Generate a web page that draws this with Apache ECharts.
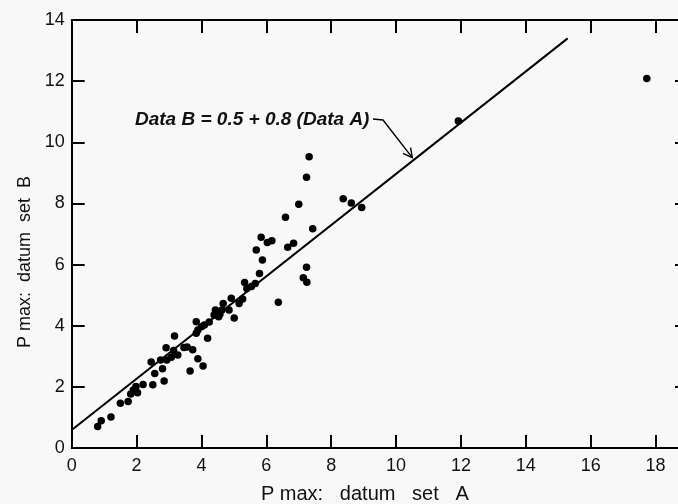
<!DOCTYPE html>
<html><head><meta charset="utf-8">
<script src="https://cdn.jsdelivr.net/npm/echarts@6/dist/echarts.min.js"></script>
<style>html,body{margin:0;padding:0;background:#f8f8f8}#c{width:678px;height:504px}</style>
</head><body><div id="c"></div>
<script>
// Data
const dataA = [0.80,0.91,1.21,1.50,1.74,1.82,1.90,1.98,2.03,2.20,2.50,2.56,2.80,2.85,2.45,2.74,2.91,2.93,3.07,3.14,3.27,3.17,3.46,3.56,3.73,3.65,3.89,4.05,3.84,3.89,3.84,4.00,4.19,4.24,4.39,4.43,4.53,4.63,4.67,4.85,4.92,5.01,5.16,5.27,5.33,5.40,5.54,5.66,5.79,5.69,5.88,5.84,6.03,6.17,6.37,6.66,6.84,6.59,7.00,7.24,7.32,7.43,7.24,7.14,7.25,8.37,8.62,8.94,11.92,17.73,4.09,4.57];
const dataB = [0.70,0.89,1.01,1.46,1.52,1.77,1.90,2.01,1.81,2.08,2.07,2.44,2.59,2.19,2.81,2.88,3.28,2.88,2.97,3.19,3.04,3.66,3.29,3.30,3.21,2.52,2.92,2.68,3.75,3.86,4.13,3.97,3.59,4.12,4.35,4.51,4.29,4.51,4.73,4.51,4.90,4.25,4.73,4.87,5.41,5.22,5.28,5.38,5.71,6.48,6.15,6.89,6.72,6.78,4.77,6.57,6.70,7.55,7.97,8.86,9.53,7.17,5.91,5.57,5.42,8.15,8.01,7.87,10.70,12.09,4.02,4.38];
const fitA = [0, 15.29];
const fitB = [0.59, 13.40];
const xTitle = 'P max:   datum   set   A';
const yTitle = 'P max:  datum  set  B';
const noteText = 'Data B = 0.5 + 0.8 (Data A)';
const notePoint = [10.5, 9.5];

const FONT = 'Liberation Sans, Arial, Helvetica, sans-serif';
const chart = echarts.init(document.getElementById('c'));
const pts = dataA.map((a, i) => [a, dataB[i]]);
const fitPts = fitA.map((a, i) => [a, fitB[i]]);

const line = {show: true, onZero: false, lineStyle: {color: '#000', width: 2}};
const tick = {show: true, inside: true, length: 13, lineStyle: {color: '#000', width: 2}};
const lbl = {fontSize: 18, color: '#111', fontFamily: FONT};

chart.setOption({
  backgroundColor: '#f8f8f8',
  animation: false,
  grid: {left: 71.7, top: 20, right: -10, bottom: 56, outerBoundsMode: 'none', containLabel: false},
  xAxis: [
    {type: 'value', min: 0, max: 19, interval: 2, position: 'bottom',
     axisLine: line, axisTick: tick, splitLine: {show: false},
     axisLabel: Object.assign({margin: 9, formatter: v => (v % 2 === 0 ? String(v) : '')}, lbl),
     name: xTitle, nameLocation: 'middle', nameGap: 36,
     nameTextStyle: {fontSize: 20, color: '#111', fontFamily: FONT, padding: [0, 30, 0, 0]}},
    {type: 'value', min: 0, max: 19, interval: 2, position: 'top',
     axisLine: line, axisTick: tick, splitLine: {show: false}, axisLabel: {show: false}}
  ],
  yAxis: [
    {type: 'value', min: 0, max: 14, interval: 2, position: 'left',
     axisLine: line, axisTick: tick, splitLine: {show: false},
     axisLabel: Object.assign({margin: 7}, lbl),
     name: yTitle, nameLocation: 'middle', nameGap: 38,
     nameTextStyle: {fontSize: 18, color: '#111', fontFamily: FONT, padding: [0, 56, 0, 0]}},
    {type: 'value', min: 0, max: 14, interval: 2, position: 'right',
     axisLine: line, axisTick: tick, splitLine: {show: false}, axisLabel: {show: false}}
  ],
  series: [
    {type: 'scatter', data: pts, symbolSize: 7.5, itemStyle: {color: '#000', opacity: 1}, xAxisIndex: 0, yAxisIndex: 0},
    {type: 'line', data: fitPts, symbol: 'none', lineStyle: {color: '#000', width: 2}, xAxisIndex: 0, yAxisIndex: 0}
  ]
});

const tip = chart.convertToPixel({xAxisIndex: 0, yAxisIndex: 0}, notePoint);
const hookA = [373, 119], hookB = [383, 120];
const dx = tip[0] - hookB[0], dy = tip[1] - hookB[1];
const len = Math.hypot(dx, dy), ux = dx / len, uy = dy / len;
const ang = 28 * Math.PI / 180, hl = 10;
function rot(x, y, a) { return [x * Math.cos(a) - y * Math.sin(a), x * Math.sin(a) + y * Math.cos(a)]; }
const r1 = rot(-ux, -uy, ang), r2 = rot(-ux, -uy, -ang);
chart.setOption({
  graphic: [
    {type: 'text', left: 135, top: 110, style: {text: noteText, fontSize: 19, fontStyle: 'italic', fontWeight: 'bold', fontFamily: FONT, fill: '#111'}},
    {type: 'polyline', shape: {points: [hookA, hookB, tip]}, style: {stroke: '#000', lineWidth: 1.4, fill: null}},
    {type: 'polyline', shape: {points: [[tip[0] + r1[0] * hl, tip[1] + r1[1] * hl], tip, [tip[0] + r2[0] * hl, tip[1] + r2[1] * hl]]}, style: {stroke: '#000', lineWidth: 1.4, fill: null}}
  ]
});
</script></body></html>
